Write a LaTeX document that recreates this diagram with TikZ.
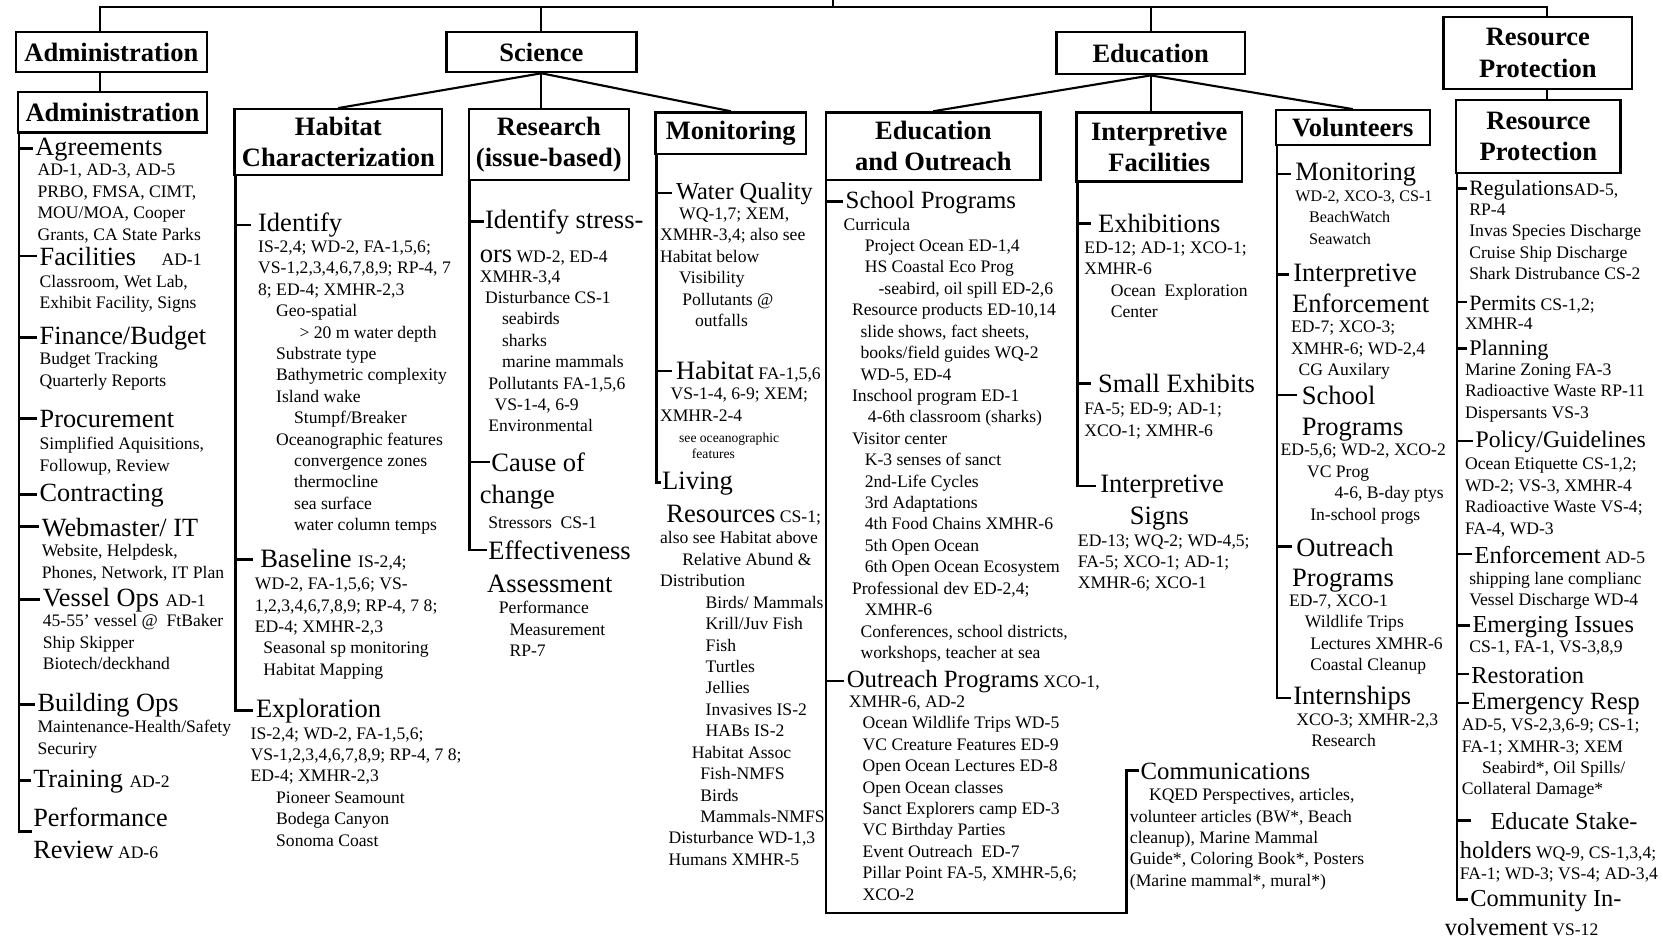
\documentclass[tikz,border=0pt]{standalone}
\usepackage{fontspec}
\setmainfont{Liberation Serif}
\newcommand\sm[1]{{\fontsize{8.3}{10.1}\selectfont #1}}
\newcommand\ind[1]{\hspace*{#1pt}}
\newcommand\firstS{\rule{0pt}{6.2pt}}
\tikzset{
 ln/.style={line width=1pt},
 spine/.style={line width=1.2pt},
 box/.style={draw, line width=1.1pt, align=center, inner sep=0pt,
   font=\fontsize{12.5}{14.7}\selectfont\bfseries},
 hd/.style={anchor=north west, inner sep=0pt, font=\fontsize{#1}{15}\selectfont,
   yshift=9pt, execute at begin node={\rule{0pt}{9pt}}},
 hd/.default=12,
 det/.style={anchor=north west, inner sep=0pt, align=left,
   font=\fontsize{8.3}{10.1}\selectfont, yshift=6.2pt},
}
\begin{document}
\begin{tikzpicture}[x=0.5pt,y=-0.5pt]
\fill[white] (0,0) rectangle (1568,886);
\useasboundingbox (0,0) rectangle (1568,886);

% ---------- boxes ----------
\node[box, minimum width=90pt, minimum height=19pt] (adm1) at (105,49) {Administration};
\node[box, minimum width=89pt, minimum height=19pt] (adm2) at (106,106) {Administration};
\node[box, minimum width=89.5pt, minimum height=19pt] (sci) at (510.5,49) {Science};
\node[box, minimum width=98pt, minimum height=31pt] (hab) at (319,134) {Habitat\\Characterization};
\node[box, minimum width=75.5pt, minimum height=33.5pt] (res) at (517.5,136.5) {Research\\(issue-based)};
\node[box, minimum width=71pt, minimum height=19.5pt] (mon) at (689,125.5) {Monitoring};
\node[box, minimum width=89pt, minimum height=20pt] (edu) at (1085,50) {Education};
\node[box, minimum width=101pt, minimum height=32pt] (eo) at (880,138) {Education\\and Outreach};
\node[box, minimum width=78pt, minimum height=32.5pt] (intf) at (1093,138.5) {Interpretive\\Facilities};
\node[box, minimum width=72.5pt, minimum height=16.5pt] (vol) at (1275.5,120.5) {Volunteers};
\node[box, minimum width=89pt, minimum height=34pt] (rp1) at (1450,50) {Resource\\Protection};
\node[box, minimum width=77.5pt, minimum height=34.5pt] (rp2) at (1450.5,128.5) {Resource\\Protection};

% ---------- Administration ----------
\node[hd=12.4] (agr) at (33,146) {Agreements};
\node[det] (agrd) at (35,165.5) {\firstS AD-1, AD-3, AD-5\\PRBO, FMSA, CIMT,\\MOU/MOA, Cooper\\Grants, CA State Parks};
\node[hd=12.4] (fac) at (37,250) {Facilities\hspace{12pt}\sm{AD-1}};
\node[det] (facd) at (37,270.5) {\firstS Classroom, Wet Lab,\\Exhibit Facility, Signs};
\node[hd=12.4] (fin) at (37,324) {Finance/Budget};
\node[det] (find) at (37,343.5) {\firstS Budget Tracking\\Quarterly Reports};
\node[hd=12.4] (proc) at (37,403) {Procurement};
\node[det] (procd) at (37,423.5) {\firstS Simplified Aquisitions,\\Followup, Review};
\node[hd=12.4] (contr) at (37,472) {Contracting};
\node[hd=12.4] (web) at (39,505) {Webmaster/ IT};
\node[det] (webd) at (39,524.5) {\firstS Website, Helpdesk,\\Phones, Network, IT Plan};
\node[hd=12.4] (ves) at (40,571) {Vessel Ops \sm{AD-1}};
\node[det] (vesd) at (40,590.5) {\firstS 45-55' vessel @\ \ FtBaker\\Ship Skipper\\Biotech/deckhand};
\node[hd=12.4] (bld) at (35,670) {Building Ops};
\node[det] (bldd) at (35,690.5) {\firstS Maintenance-Health/Safety\\Securiry};
\node[hd=12.4] (trn) at (31,742) {Training \sm{AD-2}};
\node[hd=12.4] (perf) at (31,779) {Performance};
\node[hd=12.4] (perf2) at (31,809) {Review\sm{ AD-6}};

% ---------- Habitat ----------
\node[hd=12.5] (iden) at (243,218) {Identify};
\node[det] (idend) at (243,237.5) {\firstS IS-2,4; WD-2, FA-1,5,6;\\VS-1,2,3,4,6,7,8,9; RP-4, 7\\8; ED-4; XMHR-2,3\\\ind{8.5}Geo-spatial\\\ind{19.5}> 20 m water depth\\\ind{8.5}Substrate type\\\ind{8.5}Bathymetric complexity\\\ind{8.5}Island wake\\\ind{17}Stumpf/Breaker\\\ind{8.5}Oceanographic features\\\ind{17}convergence zones\\\ind{17}thermocline\\\ind{17}sea surface\\\ind{17}water column temps};
\node[hd=12.5] (basel) at (245,535) {Baseline \sm{IS-2,4;}};
\node[det] (baseld) at (240,555.5) {\firstS WD-2, FA-1,5,6; VS-\\1,2,3,4,6,7,8,9; RP-4, 7 8;\\ED-4; XMHR-2,3\\\ind{4}Seasonal sp monitoring\\\ind{4}Habitat Mapping};
\node[hd=12.5] (expl) at (241,676) {Exploration};
\node[det] (expld) at (236,696.5) {\firstS IS-2,4; WD-2, FA-1,5,6;\\VS-1,2,3,4,6,7,8,9; RP-4, 7 8;\\ED-4; XMHR-2,3\\\ind{12}Pioneer Seamount\\\ind{12}Bodega Canyon\\\ind{12}Sonoma Coast};

% ---------- Research ----------
\node[hd=12.5] (ids) at (457,215) {Identify stress-};
\node[hd=12.5] (ids2) at (452,247) {ors\sm{ WD-2, ED-4}};
\node[det] (idsd) at (452,265.5) {\firstS XMHR-3,4\\\ind{2.5}Disturbance CS-1\\\ind{10.5}seabirds\\\ind{10.5}sharks\\\ind{10.5}marine mammals\\\ind{4}Pollutants FA-1,5,6\\\ind{7}VS-1-4, 6-9\\\ind{4}Environmental};
\node[hd=12.5] (cause) at (463,444) {Cause of};
\node[hd=12.5] (cause2) at (452,474) {change};
\node[det] (caused) at (460,497.5) {\firstS Stressors\ \ CS-1};
\node[hd=12.5] (eff) at (460,527) {Effectiveness};
\node[hd=12.5] (eff2) at (459,558) {Assessment};
\node[det] (effd) at (470,578.5) {\firstS Performance\\\ind{5}Measurement\\\ind{5}RP-7};

% ---------- Monitoring ----------
\node[hd=11.5] (wq) at (637,188) {Water Quality};
\node[det] (wqd) at (622,206.5) {\firstS\ind{9}WQ-1,7; XEM,\\XMHR-3,4; also see\\Habitat below\\\ind{9}Visibility\\\ind{10.5}Pollutants @\\\ind{16.5}outfalls};
\node[hd=12.5] (hab2) at (637,357) {Habitat\sm{ FA-1,5,6}};
\node[det] (hab2d) at (622,376.5) {\firstS\ind{5}VS-1-4, 6-9; XEM;\\XMHR-2-4};
\node[det, font=\fontsize{6.4}{7.6}\selectfont] (hab2t) at (640,416.5) {\firstS see oceanographic\\\ind{6}features};
\node[hd=12.5] (liv) at (624,461) {Living};
\node[hd=12.5] (liv2) at (628,492) {Resources\sm{ CS-1;}};
\node[det] (livd) at (622,512.5) {\firstS also see Habitat above\\\ind{10.5}Relative Abund \&\\Distribution\\\ind{21.5}Birds/ Mammals\\\ind{21.5}Krill/Juv Fish\\\ind{21.5}Fish\\\ind{21.5}Turtles\\\ind{21.5}Jellies\\\ind{21.5}Invasives IS-2\\\ind{21.5}HABs IS-2\\\ind{15}Habitat Assoc\\\ind{19}Fish-NMFS\\\ind{19}Birds\\\ind{19}Mammals-NMFS\\\ind{4}Disturbance WD-1,3\\\ind{4}Humans XMHR-5};

% ---------- Education and Outreach ----------
\node[hd=11.7] (schp) at (797,196) {School Programs};
\node[det] (schpd) at (795,216.5) {\firstS Curricula\\\ind{10}Project Ocean ED-1,4\\\ind{10}HS Coastal Eco Prog\\\ind{16.5}-seabird, oil spill ED-2,6\\\ind{4}Resource products ED-10,14\\\ind{8}slide shows, fact sheets,\\\ind{8}books/field guides WQ-2\\\ind{8}WD-5, ED-4\\\ind{4}Inschool program ED-1\\\ind{11.5}4-6th classroom (sharks)\\\ind{4}Visitor center\\\ind{10}K-3 senses of sanct\\\ind{10}2nd-Life Cycles\\\ind{10}3rd Adaptations\\\ind{10}4th Food Chains XMHR-6\\\ind{10}5th Open Ocean\\\ind{10}6th Open Ocean Ecosystem\\\ind{4}Professional dev ED-2,4;\\\ind{10}XMHR-6\\\ind{8}Conferences, school districts,\\\ind{8}workshops, teacher at sea};
\node[hd=11.7] (op) at (798,648) {Outreach Programs\sm{ XCO-1,}};
\node[det] (opd) at (800,666.5) {\firstS XMHR-6, AD-2\\\ind{6.5}Ocean Wildlife Trips WD-5\\\ind{6.5}VC Creature Features ED-9\\\ind{6.5}Open Ocean Lectures ED-8\\\ind{6.5}Open Ocean classes\\\ind{6.5}Sanct Explorers camp ED-3\\\ind{6.5}VC Birthday Parties\\\ind{6.5}Event Outreach\ \ ED-7\\\ind{6.5}Pillar Point FA-5, XMHR-5,6;\\\ind{6.5}XCO-2};
\coordinate (eocorner) at (1062,861);
\node[hd=11.7] (comm) at (1075,735) {Communications};
\node[det] (commd) at (1065,754.5) {\firstS\ind{9}KQED Perspectives, articles,\\volunteer articles (BW*, Beach\\cleanup), Marine Mammal\\Guide*, Coloring Book*, Posters\\(Marine mammal*, mural*)};

% ---------- Interpretive Facilities ----------
\node[hd=12.5] (exh) at (1035,219) {Exhibitions};
\node[det] (exhd) at (1022,238.5) {\firstS ED-12; AD-1; XCO-1;\\XMHR-6\\\ind{12.5}Ocean\ \ Exploration\\\ind{12.5}Center};
\node[hd=12.5] (sme) at (1035,370) {Small Exhibits};
\node[det] (smed) at (1022,390.5) {\firstS FA-5; ED-9; AD-1;\\XCO-1; XMHR-6};
\node[hd=12.5] (isg) at (1037,464) {Interpretive};
\node[hd=12.5] (isg2) at (1065,494) {Signs};
\node[det] (isgd) at (1016,514.5) {\firstS ED-13; WQ-2; WD-4,5;\\FA-5; XCO-1; AD-1;\\XMHR-6; XCO-1};

% ---------- Volunteers ----------
\node[hd=12.5] (vmon) at (1221,170) {Monitoring};
\node[det, font=\fontsize{7.6}{10.1}\selectfont] (vmond) at (1221,189.5) {\firstS WD-2, XCO-3, CS-1\\\ind{6.5}BeachWatch\\\ind{6.5}Seawatch};
\node[hd=12.5] (vie) at (1219,265) {Interpretive};
\node[hd=12.5] (vie2) at (1218,294) {Enforcement};
\node[det] (vied) at (1217,313.5) {\firstS ED-7; XCO-3;\\XMHR-6; WD-2,4\\\ind{3.5}CG Auxilary};
\node[hd=12.5] (vsp) at (1227,381) {School};
\node[hd=12.5] (vsp2) at (1227,410) {Programs};
\node[det] (vspd) at (1207,429.5) {\firstS ED-5,6; WD-2, XCO-2\\\ind{12.5}VC Prog\\\ind{25.5}4-6, B-day ptys\\\ind{14}In-school progs};
\node[hd=12.5] (vop) at (1222,524) {Outreach};
\node[hd=12.5] (vop2) at (1218,553) {Programs};
\node[det] (vopd) at (1215,571.5) {\firstS ED-7, XCO-1\\\ind{7.5}Wildlife Trips\\\ind{10}Lectures XMHR-6\\\ind{10}Coastal Cleanup};
\node[hd=12.5] (vint) at (1219,664) {Internships};
\node[det] (vintd) at (1222,683.5) {\firstS XCO-3; XMHR-2,3\\\ind{7}Research};

% ---------- Resource Protection ----------
\node[hd=10.3] (reg) at (1385,184) {Regulations\sm{AD-5,}};
\node[det] (regd) at (1385,202.5) {\firstS RP-4\\Invas Species Discharge\\Cruise Ship Discharge\\Shark Distrubance CS-2};
\node[hd=10.3] (perm) at (1385,292) {Permits\sm{ CS-1,2;}};
\node[det] (permd) at (1381,310.5) {\firstS XMHR-4};
\node[hd=10.5] (plan) at (1385,335) {Planning};
\node[det] (pland) at (1381,353.5) {\firstS Marine Zoning FA-3\\Radioactive Waste RP-11\\Dispersants VS-3};
\node[hd=11.2] (pol) at (1391,422) {Policy/Guidelines};
\node[det] (pold) at (1381,442.5) {\firstS Ocean Etiquette CS-1,2;\\WD-2; VS-3, XMHR-4\\Radioactive Waste VS-4;\\FA-4, WD-3};
\node[hd=11.5] (enf) at (1390,531) {Enforcement\sm{ AD-5}};
\node[det] (enfd) at (1385,550.5) {\firstS shipping lane complianc\\Vessel Discharge WD-4};
\node[hd=11.5] (emi) at (1388,596) {Emerging Issues};
\node[det] (emid) at (1385,614.5) {\firstS CS-1, FA-1, VS-3,8,9};
\node[hd=11.5] (rest) at (1387,644) {Restoration};
\node[hd=11.7] (emr) at (1387,669) {Emergency Resp};
\node[det] (emrd) at (1378,688.5) {\firstS AD-5, VS-2,3,6-9; CS-1;\\FA-1; XMHR-3; XEM\\\ind{9.5}Seabird*, Oil Spills/\\Collateral Damage*};
\node[hd=11.5] (edus) at (1405,782) {Educate Stake-};
\node[hd=11.5] (edus2) at (1376,809) {holders\sm{ WQ-9, CS-1,3,4;}};
\node[det] (edusd) at (1376,828.5) {\firstS FA-1; WD-3; VS-4; AD-3,4};
\node[hd=11.5] (com) at (1386,854) {Community In-};
\node[hd=11.5] (com2) at (1362,882) {volvement\sm{ VS-12}};

% ---------- top connectors ----------
\coordinate (root) at (785,0);
\coordinate (bus) at (785,7);
\draw[ln] (root) -- (bus);
\coordinate (admdrop) at ([xshift=-5.5pt]adm1.north);
\coordinate (admdrop2) at ([xshift=-5.5pt]adm1.south);
\coordinate (rpdrop) at ([xshift=4.5pt]rp1.north);
\coordinate (rpdrop2) at ([xshift=4.5pt]rp1.south);
\draw[ln] (admdrop) |- (bus);
\draw[ln] (rpdrop) |- (bus);
\draw[ln] (sci.north) -- (sci.north |- bus);
\draw[ln] (edu.north) -- (edu.north |- bus);
\draw[ln] (admdrop2) -- (admdrop2 |- adm2.north);
\draw[ln] (rpdrop2) -- (rpdrop2 |- rp2.north);
\draw[ln] (sci.south) -- (hab.north);
\draw[ln] (sci.south) -- (sci.south |- res.north);
\draw[ln] (sci.south) -- (mon.north);
\draw[ln] (edu.south) -- (eo.north);
\draw[ln] (edu.south) -- (edu.south |- intf.north);
\draw[ln] (edu.south) -- (vol.north);

% ---------- spines ----------
\coordinate (admsp) at ([xshift=1pt]adm2.south west);
\draw[spine] (admsp) |- ([xshift=-0.5pt,yshift=-2pt]perf.south west);
\foreach \n in {agr,fac,fin,proc,contr,web,ves,bld,trn}
  \draw[spine] (admsp |- \n.west) -- ([xshift=-1pt]\n.west);

\coordinate (habsp) at ([xshift=1pt]hab.south west);
\draw[spine] (habsp) |- ([xshift=-1pt]expl.west);
\foreach \n in {iden,basel}
  \draw[spine] (habsp |- \n.west) -- ([xshift=-3pt]\n.west);

\coordinate (ressp) at ([xshift=1pt]res.south west);
\draw[spine] (ressp) |- ([xshift=-0.5pt]eff.west);
\foreach \n in {ids,cause}
  \draw[spine] (ressp |- \n.west) -- ([xshift=-0.5pt]\n.west);

\coordinate (monsp) at ([xshift=1pt]mon.south west);
\draw[spine] (monsp) |- ([xshift=-0.5pt]liv.west);
\foreach \n in {wq,hab2}
  \draw[spine] (monsp |- \n.west) -- ([xshift=-1.5pt]\n.west);

\coordinate (eosp) at ([xshift=0.5pt]eo.south west);
\draw[spine] (eosp) |- (eocorner) |- ([xshift=-0.5pt]comm.west);
\foreach \n in {schp,op}
  \draw[spine] (eosp |- \n.west) -- ([xshift=-1pt]\n.west);

\coordinate (intsp) at ([xshift=1pt]intf.south west);
\draw[spine] (intsp) |- ([xshift=-2pt]isg.west);
\foreach \n in {exh,sme}
  \draw[spine] (intsp |- \n.west) -- ([xshift=-3pt]\n.west);

\coordinate (volsp) at ([xshift=1pt]vol.south west);
\draw[spine] (volsp) |- ([xshift=-1pt]vint.west);
\foreach \n in {vmon,vie,vsp,vop}
  \draw[spine] (volsp |- \n.west) -- ([xshift=-2pt]\n.west);

\coordinate (rpsp) at ([xshift=1pt]rp2.south west);
\draw[spine] (rpsp) |- ([xshift=-1pt]com.west);
\foreach \n in {reg,perm,plan,pol,enf,emi,rest,emr}
  \draw[spine] (rpsp |- \n.west) -- ([xshift=-1pt]\n.west);
\draw[spine] (rpsp |- edus.west) -- ([xshift=-9pt]edus.west);
\end{tikzpicture}
\end{document}
